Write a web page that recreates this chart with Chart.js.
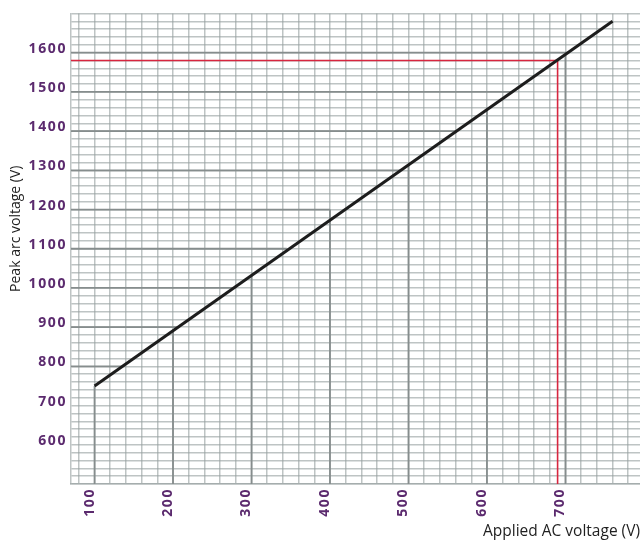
<!DOCTYPE html>
<html>
<head>
<meta charset="utf-8">
<script src="https://cdn.jsdelivr.net/npm/chart.js@4/dist/chart.umd.min.js"></script>
<style>
  html, body { margin: 0; padding: 0; background: #ffffff; }
  #wrap { width: 640px; height: 545px; position: relative; }
</style>
</head>
<body>
<div id="wrap"><canvas id="arc"></canvas></div>
<script>
// Axis extents (volts)
const xMin = 70, xMax = 795;
const yMin = 500, yMax = 1700;
const gridStep = 20;

// Labelled ticks
const xTickLabels = [100, 200, 300, 400, 500, 600, 700];
const yTickLabels = [600, 700, 800, 900, 1000, 1100, 1200, 1300, 1400, 1500, 1600];

// Peak arc voltage against applied AC voltage (straight line)
const appliedAC = [100, 760];
const peakArc = [750, 1680];

// Reading lines: verticals rise from the x axis
const dropX = [100, 200, 300, 400, 500, 600, 700];
const dropXTop = [750, 891, 1032, 1200, 1314, 1455, 1596];
// horizontals run from the y axis
const dropY = [800, 900, 1000, 1100, 1200, 1300, 1400, 1500, 1600];
const dropYEnd = [135, 206, 277, 345, 400, 490, 561, 632, 703];

// Highlighted reading
const markAC = 690;
const markPeak = 1580;

const purple = '#5b2a6e';
const gridColor = 'rgba(150,160,160,0.62)';
const dropColor = '#868d8d';

const curveData = appliedAC.map((x, i) => ({ x, y: peakArc[i] }));

const dropData = [];
dropX.forEach((x, i) => {
  dropData.push({ x, y: yMin }, { x, y: dropXTop[i] }, { x, y: null });
});
dropY.forEach((y, i) => {
  dropData.push({ x: xMin, y }, { x: dropYEnd[i], y }, { x: xMin, y: null });
});

const markData = [
  { x: xMin, y: markPeak },
  { x: markAC, y: markPeak },
  { x: markAC, y: yMin }
];

// Tick labels are drawn with a little tracking
const tickTracking = {
  id: 'tickTracking',
  afterDatasetsDraw(chart) { chart.ctx.letterSpacing = '1.6px'; },
  afterDraw(chart) { chart.ctx.letterSpacing = '0px'; }
};

new Chart(document.getElementById('arc'), {
  type: 'line',
  data: {
    datasets: [
      {
        data: curveData,
        borderColor: '#1d1d1d',
        borderWidth: 3,
        pointRadius: 0,
        order: 0
      },
      {
        data: markData,
        borderColor: '#d8263f',
        borderWidth: 1.6,
        pointRadius: 0,
        order: 1
      },
      {
        data: dropData,
        borderColor: dropColor,
        borderWidth: 1.8,
        pointRadius: 0,
        spanGaps: false,
        order: 2
      }
    ]
  },
  options: {
    responsive: true,
    maintainAspectRatio: false,
    animation: false,
    parsing: false,
    normalized: true,
    events: [],
    layout: { autoPadding: false, padding: { top: 13.5, right: 0, bottom: 0, left: 0 } },
    plugins: { legend: { display: false }, tooltip: { enabled: false } },
    scales: {
      x: {
        type: 'linear',
        min: xMin,
        max: xMax,
        afterBuildTicks(scale) {
          const t = [];
          for (let v = Math.ceil(xMin / gridStep) * gridStep; v <= xMax; v += gridStep) t.push({ value: v });
          scale.ticks = t;
        },
        afterFit(scale) {
          scale.height = 61;
          scale.paddingLeft = 0;
          scale.paddingRight = 0;
        },
        grid: { color: gridColor, lineWidth: 1.5, drawTicks: false },
        border: { display: true, color: gridColor, width: 1.5 },
        ticks: {
          z: 1,
          autoSkip: false,
          minRotation: 90,
          maxRotation: 90,
          padding: 4,
          labelOffset: -5,
          color: purple,
          font: { family: '"Open Sans", sans-serif', size: 14, weight: 'bold' },
          callback: (v) => xTickLabels.includes(v) ? String(v) : ''
        },
        title: {
          display: true,
          text: 'Applied AC voltage (V)',
          align: 'end',
          color: '#1f1f1f',
          font: { family: '"Open Sans", sans-serif', size: 15.5, weight: 'normal' },
          padding: { top: 0, bottom: 4 }
        }
      },
      y: {
        type: 'linear',
        min: yMin,
        max: yMax,
        ticks: {
          z: 1,
          stepSize: gridStep,
          autoSkip: false,
          padding: 4,
          labelOffset: -4,
          color: purple,
          font: { family: '"Open Sans", sans-serif', size: 14, weight: 'bold' },
          callback: (v) => yTickLabels.includes(v) ? String(v) : ''
        },
        afterFit(scale) {
          scale.width = 71;
          scale.paddingTop = 0;
          scale.paddingBottom = 0;
        },
        grid: { color: gridColor, lineWidth: 1.5, drawTicks: false },
        border: { display: true, color: gridColor, width: 1.5 },
        title: {
          display: true,
          text: '           Peak arc voltage (V)',
          color: '#1f1f1f',
          font: { family: '"Open Sans", sans-serif', size: 14, weight: 'normal' },
          padding: { top: 8, bottom: 0 }
        }
      }
    }
  },
  plugins: [tickTracking]
});
</script>
</body>
</html>
